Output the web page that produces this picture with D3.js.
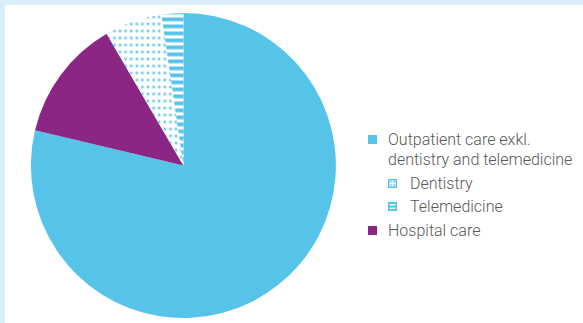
<!DOCTYPE html>
<html>
<head>
<meta charset="utf-8">
<script src="https://cdn.jsdelivr.net/npm/d3@7/dist/d3.min.js"></script>
<style>
  html, body { margin: 0; padding: 0; background: #fff; }
  svg { display: block; }
</style>
</head>
<body>
<svg id="chart" width="583" height="323"></svg>
<script>
// Share of care contacts by type (percent)
const categories = ["Outpatient care exkl. dentistry and telemedicine", "Hospital care", "Dentistry", "Telemedicine"];
const values = [78.7, 12.9, 6.1, 2.3];
const fills = ["solid-blue", "solid-purple", "dots", "stripes"];

// Legend order and wrapped label lines
const legendKeys = ["Outpatient care exkl. dentistry and telemedicine", "Dentistry", "Telemedicine", "Hospital care"];
const legendLines = [["Outpatient care exkl.", "dentistry and telemedicine"], ["Dentistry"], ["Telemedicine"], ["Hospital care"]];
const legendIndent = [0, 1, 1, 0];

const BLUE = "#56c3e9";
const PURPLE = "#8b2684";
const FRAME = "#d9eef9";
const TEXT = "#585858";

const svg = d3.select("#chart");

// light frame along top and left edges
svg.append("rect").attr("x", 0).attr("y", 0).attr("width", 583).attr("height", 5).attr("fill", FRAME);
svg.append("rect").attr("x", 0).attr("y", 0).attr("width", 5).attr("height", 323).attr("fill", FRAME);

const defs = svg.append("defs");
const dots = defs.append("pattern").attr("id", "dots").attr("patternUnits", "userSpaceOnUse")
  .attr("width", 5.6).attr("height", 7).attr("x", 1).attr("y", 2);
dots.append("rect").attr("width", 5.6).attr("height", 7).attr("fill", "#fff");
dots.append("rect").attr("x", 1.6).attr("y", 2.3).attr("width", 2.4).attr("height", 2.4).attr("fill", BLUE);

const stripes = defs.append("pattern").attr("id", "stripes").attr("patternUnits", "userSpaceOnUse")
  .attr("width", 10).attr("height", 7).attr("x", 0).attr("y", 13);
stripes.append("rect").attr("width", 10).attr("height", 7).attr("fill", "#fff");
stripes.append("rect").attr("y", 0).attr("width", 10).attr("height", 3.8).attr("fill", BLUE);

const fillFor = f => f === "solid-blue" ? BLUE : f === "solid-purple" ? PURPLE : `url(#${f})`;

const cx = 183.4, cy = 165.5, r = 152.5;
const pie = d3.pie().sort(null).value(d => d.value).startAngle(0).endAngle(2 * Math.PI);
const arc = d3.arc().innerRadius(0).outerRadius(r);
const data = categories.map((c, i) => ({ name: c, value: values[i], fill: fills[i] }));

svg.append("g").attr("transform", `translate(${cx},${cy})`)
  .selectAll("path").data(pie(data)).join("path")
  .attr("d", arc)
  .attr("fill", d => fillFor(d.data.fill));

// legend
const rowY = [135, 179, 202, 226];
const lg = svg.append("g");
legendKeys.forEach((k, i) => {
  const f = fills[categories.indexOf(k)];
  const x = legendIndent[i] ? 388 : 368;
  const y = rowY[i];
  if (f === "dots") {
    lg.append("rect").attr("x", x + 0.75).attr("y", y + 0.75).attr("width", 7.5).attr("height", 7.5)
      .attr("fill", "#fff").attr("stroke", BLUE).attr("stroke-width", 1.5);
    [[2.2, 2.2], [5.3, 2.2], [2.2, 5.3], [5.3, 5.3]].forEach(([dx, dy]) =>
      lg.append("rect").attr("x", x + dx).attr("y", y + dy).attr("width", 1.5).attr("height", 1.5).attr("fill", BLUE));
  } else if (f === "stripes") {
    lg.append("rect").attr("x", x).attr("y", y).attr("width", 9).attr("height", 9).attr("fill", BLUE);
    lg.append("rect").attr("x", x + 1.5).attr("y", y + 2).attr("width", 6).attr("height", 1.4).attr("fill", "#fff");
    lg.append("rect").attr("x", x + 1.5).attr("y", y + 5.6).attr("width", 6).attr("height", 1.4).attr("fill", "#fff");
  } else {
    lg.append("rect").attr("x", x).attr("y", y).attr("width", 9).attr("height", 9).attr("fill", fillFor(f));
  }
  const tx = legendIndent[i] ? 410 : 388;
  const t = lg.append("text").attr("x", tx).attr("y", y + 9.5)
    .attr("font-family", "Roboto, 'Liberation Sans', sans-serif").attr("font-weight", 300)
    .attr("font-size", 16).attr("fill", TEXT);
  legendLines[i].forEach((line, j) => {
    t.append("tspan").attr("x", tx).attr("dy", j === 0 ? 0 : 20).text(line);
  });
});
</script>
</body>
</html>
